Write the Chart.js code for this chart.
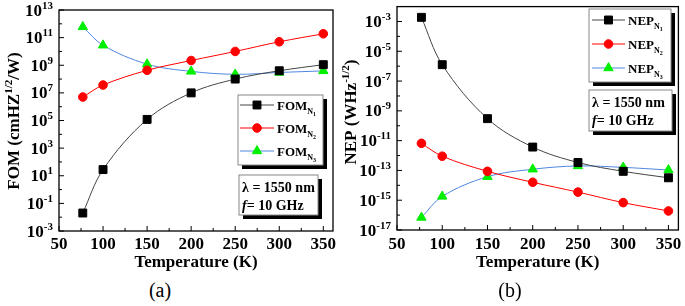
<!DOCTYPE html>
<html><head><meta charset="utf-8">
<script src="https://cdn.jsdelivr.net/npm/chart.js@4.4.0/dist/chart.umd.min.js"></script>
<style>
body{margin:0;background:#fff;width:685px;height:306px;overflow:hidden;position:relative;font-family:"Liberation Serif",serif}
.box{position:absolute;top:0;height:275px}
.cap{position:absolute;top:279px;font-size:20px;width:60px;text-align:center;color:#000}
</style></head><body>
<div class="box" style="left:0;width:342px"><canvas id="fomCanvas"></canvas></div>
<div class="box" style="left:340px;width:345px"><canvas id="nepCanvas"></canvas></div>
<div class="cap" style="left:130px">(a)</div>
<div class="cap" style="left:480px">(b)</div>
<script>
// temperatures (K)
let temps=[77,100,150,200,250,300,350]
// FOM (cmHz^1/2/W)
let fomN1=[0.02,28,1.2e5,1e7,1e8,4e8,1.1e9]
let fomN2=[5e6,3.7e7,4.3e8,2.2e9,1e10,5e10,1.9e11]
let fomN3=[6e11,2.8e10,1.2e9,3.6e8,2.2e8,3e8,3.9e8]
// NEP (WHz^-1/2)
let nepN1=[1.9e-3,1.26e-6,3e-10,3.7e-12,3.4e-13,8.7e-14,3.2e-14]
let nepN2=[6.6e-12,9e-13,8.7e-14,1.6e-14,3.5e-15,6.9e-16,1.9e-16]
let nepN3=[6.9e-17,1.8e-15,3.8e-14,1.2e-13,2e-13,1.6e-13,1.07e-13]
// tick labels
let xTicks=[50,100,150,200,250,300,350]
let fomExps=[-3,-1,1,3,5,7,9,11,13]
let nepExps=[-17,-15,-13,-11,-9,-7,-5,-3]

let serif='"Liberation Serif","Times New Roman",serif'
let bold=s=>`bold ${s}px ${serif}`
let lineColors=["#444","#ff0000","#4f86e0"]
let markColors=["#000","#ff0000","#00ee00"]
let markStyles=["rect","circle","triangle"]
let markRadius=[5.6,4.3,5.4]

let drawRich=(ctx,parts,x,y,align)=>{
    let w=0
    parts.forEach(p=>{ctx.font=p.font;w+=ctx.measureText(p.text).width})
    let cx=align==="right"?x-w:align==="center"?x-w/2:x
    ctx.textBaseline="alphabetic"
    ctx.textAlign="left"
    parts.forEach(p=>{ctx.font=p.font;ctx.fillText(p.text,cx,y+(p.dy||0));cx+=ctx.measureText(p.text).width})
}

let makeDecor=info=>({
    id:"decor",
    afterDraw:(chart)=>{
        let ctx=chart.ctx
        let a=chart.chartArea
        let xs=chart.scales.x,ys=chart.scales.y
        ctx.save()
        ctx.fillStyle="#000"
        ctx.strokeStyle="#000"
        ctx.lineWidth=1.3
        ctx.strokeRect(a.left,a.top,a.right-a.left,a.bottom-a.top)
        ctx.lineWidth=1
        // x ticks, inward
        for(let v=50;v<=350;v+=25){
            let px=xs.getPixelForValue(v)
            ctx.beginPath();ctx.moveTo(px,a.bottom);ctx.lineTo(px,a.bottom-(v%50===0?5:3));ctx.stroke()
        }
        xTicks.forEach(v=>{
            drawRich(ctx,[{text:String(v),font:bold(17)}],xs.getPixelForValue(v),info.xLabelY,"center")
        })
        // y ticks, inward
        let e0=info.exps[0],e1=info.exps[info.exps.length-1]
        for(let e=e0;e<=e1;e++){
            let py=ys.getPixelForValue(Math.pow(10,e))
            ctx.beginPath();ctx.moveTo(a.left,py);ctx.lineTo(a.left+(info.exps.includes(e)?5:3),py);ctx.stroke()
        }
        info.exps.forEach(e=>{
            let py=ys.getPixelForValue(Math.pow(10,e))
            drawRich(ctx,[{text:"10",font:bold(17)},{text:e<0?"-"+(-e):String(e),font:bold(11),dy:-7}],a.left-6,py+5.5,"right")
        })
        // axis titles
        drawRich(ctx,[{text:"Temperature (K)",font:bold(17)}],(a.left+a.right)/2,info.xTitleY,"center")
        ctx.save()
        ctx.translate(info.yTitleX,info.yTitleY)
        ctx.rotate(-Math.PI/2)
        drawRich(ctx,info.yTitle,0,0,"center")
        ctx.restore()
        // legend
        let L=info.legend
        ctx.fillStyle="#000"
        ctx.fillRect(L.x+4,L.y+4,L.w,L.h)
        ctx.fillStyle="#fff"
        ctx.fillRect(L.x,L.y,L.w,L.h)
        ctx.strokeStyle="#888"
        ctx.strokeRect(L.x,L.y,L.w,L.h)
        chart.data.datasets.forEach((ds,i)=>{
            let ry=L.rows[i]
            ctx.strokeStyle=lineColors[i]
            ctx.lineWidth=1
            ctx.beginPath();ctx.moveTo(L.lx0,ry);ctx.lineTo(L.lx1,ry);ctx.stroke()
            ctx.fillStyle=markColors[i]
            ctx.strokeStyle=markColors[i]
            Chart.helpers.drawPoint(ctx,{pointStyle:markStyles[i],radius:markRadius[i],rotation:0,borderWidth:1},(L.lx0+L.lx1)/2,ry)
            ctx.fillStyle="#000"
            drawRich(ctx,[{text:info.name,font:bold(13)},{text:"N",font:bold(8),dy:4},{text:String(i+1),font:bold(6),dy:6}],L.tx,ry+5,"left")
        })
        // annotation box
        let B=info.note
        ctx.fillStyle="#000"
        ctx.fillRect(B.x+4,B.y+4,B.w,B.h)
        ctx.fillStyle="#fff"
        ctx.fillRect(B.x,B.y,B.w,B.h)
        ctx.strokeStyle="#888"
        ctx.strokeRect(B.x,B.y,B.w,B.h)
        ctx.fillStyle="#000"
        drawRich(ctx,[{text:"λ = 1550 nm",font:bold(14)}],B.x+3,B.r1,"left")
        drawRich(ctx,[{text:"f",font:`italic bold 14px ${serif}`},{text:"= 10 GHz",font:bold(14)}],B.x+3,B.r2,"left")
        ctx.restore()
    }
})

let makeChart=(canvasId,series,name,yMin,yMax,pad,yWidth,xHeight,info)=>{
    return new Chart(document.querySelector(canvasId),{
        type:"line",
        data:{
            datasets:series.map((vals,i)=>({
                label:name+"N"+(i+1),
                data:temps.map((t,j)=>({x:t,y:vals[j]})),
                borderColor:lineColors[i],
                borderWidth:1,
                backgroundColor:markColors[i],
                pointBackgroundColor:markColors[i],
                pointBorderColor:markColors[i],
                pointStyle:markStyles[i],
                pointRadius:markRadius[i],
                tension:0.35
            }))
        },
        options:{
            responsive:true,
            maintainAspectRatio:false,
            animation:false,
            layout:{padding:pad},
            plugins:{legend:{display:false},tooltip:{enabled:false}},
            scales:{
                x:{type:"linear",min:50,max:361,grid:{display:false},border:{display:false},ticks:{display:false},
                    afterFit:s=>{s.height=xHeight}},
                y:{type:"logarithmic",min:yMin,max:yMax,grid:{display:false},border:{display:false},ticks:{display:false},
                    afterFit:s=>{s.width=yWidth}}
            }
        },
        plugins:[makeDecor(info)]
    })
}

makeChart("#fomCanvas",[fomN1,fomN2,fomN3],"FOM",1e-3,1e13,{left:0,top:10,right:9,bottom:0},59,44,{
    name:"FOM",exps:fomExps,xLabelY:249,xTitleY:267,yTitleX:19,yTitleY:121,
    yTitle:[{text:"FOM (cmHZ",font:bold(17)},{text:"1/2",font:bold(11),dy:-7},{text:"/W)",font:bold(17)}],
    legend:{x:238,y:95,w:85,h:70,lx0:240,lx1:274,tx:277,rows:[105,128,151]},
    note:{x:239,y:175,w:79,h:40,r1:192,r2:210}
})
makeChart("#nepCanvas",[nepN1,nepN2,nepN3],"NEP",1e-17,1e-2,{left:0,top:3,right:4,bottom:0},57,45,{
    name:"NEP",exps:nepExps,xLabelY:249,xTitleY:267,yTitleX:16,yTitleY:112,
    yTitle:[{text:"NEP (WHz",font:bold(17)},{text:"-1/2",font:bold(11),dy:-7},{text:")",font:bold(17)}],
    legend:{x:249,y:9,w:82,h:73,lx0:252,lx1:285,tx:288,rows:[20,44,68]},
    note:{x:249,y:90,w:83,h:41,r1:107,r2:125}
})
</script>
</body></html>
